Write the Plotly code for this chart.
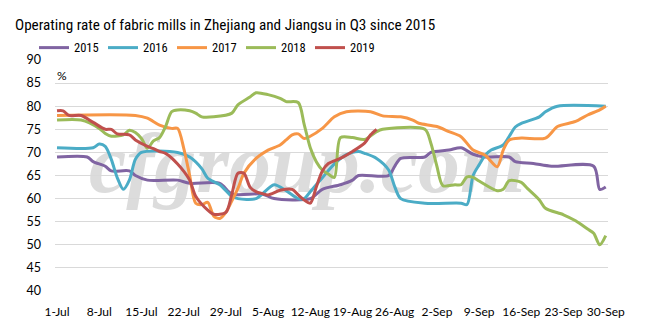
import pandas as pd
import plotly.graph_objects as go

# Q3 operating rate (%) of fabric mills in Zhejiang and Jiangsu, by year
years = ["2015", "2016", "2017", "2018", "2019"]
colors = ["#8064a2", "#4bacc6", "#f79646", "#9bbb59", "#c0504d"]

dates_2015 = ["07-01", "07-06", "07-07", "07-09", "07-10", "07-13", "07-14", "07-16",
              "07-21", "07-23", "07-28", "07-30", "08-04", "08-06", "08-12", "08-14",
              "08-17", "08-19", "08-20", "08-25", "08-26", "08-27", "08-31", "09-01",
              "09-04", "09-06", "09-08", "09-10", "09-14", "09-15", "09-18", "09-21",
              "09-28", "09-29", "09-30"]
rate_2015 = [69, 69, 68, 67, 66, 66, 65, 64,
             64, 63.3, 63.3, 61, 61, 60, 60, 62,
             63, 64, 65, 65, 67, 68.7, 69, 70,
             70.5, 71, 69.6, 69, 69, 68, 67.6, 67,
             67, 62, 62.5]

dates_2016 = ["07-01", "07-07", "07-08", "07-09", "07-10", "07-11", "07-12", "07-13",
              "07-14", "07-15", "07-21", "07-23", "07-25", "07-26", "07-28", "07-30",
              "07-31", "08-03", "08-06", "08-08", "08-10", "08-11", "08-12", "08-14",
              "08-16", "08-18", "08-20", "08-21", "08-23", "08-25", "08-26", "08-27",
              "08-31", "09-06", "09-07", "09-08", "09-09", "09-10", "09-11", "09-13",
              "09-14", "09-15", "09-16", "09-19", "09-20", "09-22", "09-30"]
rate_2016 = [71, 71, 71.8, 71.3, 68.5, 64.5, 62, 64,
             68.5, 70, 70, 69, 66.5, 64.4, 63, 60.5,
             60, 60, 63, 61.7, 60, 60, 61.5, 64.5,
             67.5, 69.5, 70.2, 69.8, 68.7, 66.2, 62.6, 60,
             59, 59, 58.7, 65, 67.3, 69.4, 70.5, 71.6,
             73.5, 75.5, 76.3, 77.7, 78.8, 80, 80]

dates_2017 = ["07-01", "07-14", "07-16", "07-18", "07-20", "07-21", "07-22", "07-23",
              "07-24", "07-25", "07-26", "07-27", "07-28", "07-29", "07-30", "07-31",
              "08-01", "08-03", "08-05", "08-07", "08-08", "08-09", "08-10", "08-11",
              "08-12", "08-14", "08-16", "08-18", "08-22", "08-24", "08-27", "08-29",
              "08-30", "09-02", "09-04", "09-06", "09-08", "09-10", "09-12", "09-13",
              "09-14", "09-16", "09-20", "09-22", "09-25", "09-27", "09-29", "09-30"]
rate_2017 = [78, 78, 77.4, 75.9, 75.2, 75.2, 71, 65,
             59, 58.7, 59.2, 56.2, 55.7, 57, 59.5, 62.2,
             65.5, 68.7, 70.5, 71.6, 72.7, 73.8, 74, 73,
             73.5, 75.2, 77.7, 78.8, 78.8, 77.9, 77.7, 77,
             76.3, 75.6, 74.5, 73.4, 70.5, 69.4, 66.9, 70.5,
             72.7, 73.1, 73.1, 75.6, 76.7, 78.1, 79.2, 80]

dates_2018 = ["07-01", "07-05", "07-08", "07-09", "07-10", "07-12", "07-13", "07-14",
              "07-15", "07-16", "07-17", "07-18", "07-19", "07-20", "07-21", "07-23",
              "07-24", "07-25", "07-27", "07-30", "07-31", "08-02", "08-03", "08-05",
              "08-07", "08-08", "08-10", "08-11", "08-12", "08-13", "08-14", "08-15",
              "08-16", "08-17", "08-19", "08-21", "08-23", "08-24", "08-31", "09-01",
              "09-02", "09-03", "09-05", "09-06", "09-07", "09-08", "09-09", "09-12",
              "09-13", "09-14", "09-16", "09-17", "09-19", "09-20", "09-23", "09-25",
              "09-27", "09-28", "09-29", "09-30"]
rate_2018 = [77, 77, 75.2, 74.1, 73.5, 73.8, 74.8, 74.3,
             73, 70.9, 72.5, 73.2, 75.6, 78.8, 79.2, 79,
             78.5, 77.7, 77.7, 78.5, 80.3, 82, 82.9, 82.5,
             81.7, 81, 80.8, 76, 71, 68, 66.2, 65.3,
             64.6, 73.2, 73.2, 72.8, 74.5, 75, 75, 72,
             67, 62.8, 63, 63, 64.7, 64.6, 63.8, 61.7,
             62, 63.9, 63.5, 62.2, 59.7, 57.9, 56.5, 55.2,
             53.4, 52.5, 50, 52]

dates_2019 = ["07-01", "07-02", "07-03", "07-05", "07-07", "07-09", "07-10", "07-11",
              "07-13", "07-14", "07-16", "07-17", "07-18", "07-19", "07-21", "07-23",
              "07-24", "07-26", "07-27", "07-29", "07-30", "07-31", "08-01", "08-02",
              "08-03", "08-04", "08-05", "08-07", "08-09", "08-10", "08-11", "08-12",
              "08-13", "08-14", "08-15", "08-17", "08-19", "08-21", "08-22", "08-23"]
rate_2019 = [79, 79, 78, 78, 76.5, 75, 75, 74,
             73.8, 72.7, 71.3, 70.8, 70.2, 69.8, 67.5, 64,
             60.5, 57.5, 56.6, 57, 61, 65.5, 65.5, 62.5,
             61.5, 61.1, 60.8, 61.8, 62, 60.8, 59.7, 59,
             62.5, 66, 67.6, 68.7, 70.2, 72, 73.8, 75]

tick_dates = ["07-01", "07-08", "07-15", "07-22", "07-29", "08-05", "08-12",
              "08-19", "08-26", "09-02", "09-09", "09-16", "09-23", "09-30"]
tick_labels = ["1-Jul", "8-Jul", "15-Jul", "22-Jul", "29-Jul", "5-Aug", "12-Aug",
               "19-Aug", "26-Aug", "2-Sep", "9-Sep", "16-Sep", "23-Sep", "30-Sep"]

series_dates = [dates_2015, dates_2016, dates_2017, dates_2018, dates_2019]
series_rates = [rate_2015, rate_2016, rate_2017, rate_2018, rate_2019]


def on_common_year(days):
    # every year is laid over the same July-September calendar
    return pd.to_datetime(["2019-" + d for d in days])


AXIS_FONT = "Lato, 'Open Sans', sans-serif"
NARROW_FONT = "'Liberation Sans Narrow', 'Roboto Condensed', Roboto, sans-serif"

fig = go.Figure()
for name, color, days, rates in zip(years, colors, series_dates, series_rates):
    fig.add_trace(go.Scatter(
        x=on_common_year(days), y=rates, name=name, mode="lines",
        line=dict(color=color, width=3, shape="spline", smoothing=0.8),
        hoverinfo="x+y+name",
    ))

fig.update_layout(
    width=650, height=332,
    margin=dict(l=55, r=42, t=60, b=41),
    paper_bgcolor="white", plot_bgcolor="white",
    font=dict(family=AXIS_FONT, size=12, color="#000000"),
    title=dict(
        text="Operating rate of fabric mills in Zhejiang and Jiangsu in Q3 since 2015",
        x=15 / 650, xref="container", xanchor="left",
        y=1 - 25 / 332, yref="container", yanchor="middle",
        font=dict(family=NARROW_FONT, size=15.2, color="#000000"),
    ),
    legend=dict(
        orientation="h", x=-0.038, xanchor="left", y=1.052, yanchor="middle",
        entrywidth=24, entrywidthmode="pixels", itemwidth=30,
        font=dict(family=NARROW_FONT, size=12.5), bgcolor="rgba(0,0,0,0)",
    ),
    showlegend=True,
    xaxis=dict(
        type="date",
        range=[pd.Timestamp("2019-06-30 16:00"), pd.Timestamp("2019-09-30 09:00")],
        tickvals=on_common_year(tick_dates), ticktext=tick_labels, tickangle=0,
        showgrid=False, zeroline=False, showline=False, ticks="",
        ticklabelstandoff=12, tickfont=dict(size=12),
    ),
    yaxis=dict(
        range=[40, 90], dtick=5, tick0=40,
        showgrid=True, gridcolor="#d9d9d9", gridwidth=1,
        zeroline=False, showline=False, ticks="",
        ticklabelstandoff=13, tickfont=dict(size=12.5),
    ),
    annotations=[dict(
        text="%", xref="paper", yref="paper", x=0.0, y=0.935,
        xanchor="left", yanchor="middle", showarrow=False,
        font=dict(family=AXIS_FONT, size=12, color="#000000"),
    )],
    shapes=[dict(
        type="rect", xref="paper", yref="paper", x0=0.106, x1=0.806, y0=0.44, y1=0.74,
        line=dict(width=0), fillcolor="rgba(0,0,0,0)", layer="below",
        label=dict(text="cfgroup.com", textposition="middle center",
                   font=dict(family="Liberation Serif", size=84, weight="bold",
                             color="#dcdcdc", style="italic")),
    )],
)

fig.write_html("out.html")
